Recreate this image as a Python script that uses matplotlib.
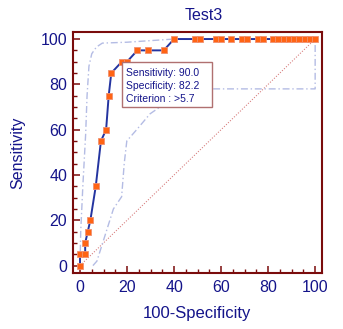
import matplotlib
matplotlib.use("Agg")
import matplotlib.pyplot as plt
from matplotlib.patches import Rectangle
from matplotlib.ticker import MultipleLocator

plt.rcParams['font.family'] = ['Liberation Sans', 'DejaVu Sans']

# ROC curve points: 100-Specificity (x) and Sensitivity (y)
fpr = [0, 0, 2.2, 2.2, 3.3, 4.4, 6.7, 8.9, 11.1, 12.2, 13.3, 17.8, 20.0, 24.4,
       28.9, 35.6, 40.0, 48.9, 51.1, 57.8, 60.0, 64.4, 68.9, 71.1, 75.6, 77.8,
       82.2, 84.4, 86.7, 88.9, 91.1, 93.3, 95.6, 97.8, 100.0]
sens = [0, 5, 5, 10, 15, 20, 35, 55, 60, 75, 85, 90, 90, 95,
        95, 95, 100, 100, 100, 100, 100, 100, 100, 100, 100, 100,
        100, 100, 100, 100, 100, 100, 100, 100, 100]

# 95% confidence bounds
upper_x = [0, 0.3, 1.2, 2.4, 3.0, 3.8, 5.0, 7.0, 9.5, 20.0, 40.0, 100.0]
upper_y = [0, 15, 35, 58, 75, 88, 93.5, 96.5, 98.2, 98.6, 100, 100]
lower_x = [5.5, 7.2, 14.2, 17.7, 18.8, 19.9, 24.1, 29.8, 34.0, 45.0, 52.0, 100.0, 100.0]
lower_y = [0, 2, 25, 30.4, 45, 55, 60, 67, 70, 75, 78, 78, 100]

# Optimal criterion
crit_sens = 90.0
crit_spec = 82.2
crit_label = ">5.7"

title = "Test3"
xlabel = "100-Specificity"
ylabel = "Sensitivity"
ticks = [0, 20, 40, 60, 80, 100]

navy = '#14148a'
maroon = '#7a0c0c'

fig = plt.figure(figsize=(3.43, 3.29), dpi=100)
ax = fig.add_axes([0.212, 0.170, 0.726, 0.732])

ax.plot([0, 100], [0, 100], linestyle=(0, (1, 1.5)), color='#d88080', lw=0.8, zorder=1)
ax.plot(upper_x, upper_y, linestyle=(0, (5, 2, 1, 2)), color='#b4bce4', lw=1.0, zorder=1)
ax.plot(lower_x, lower_y, linestyle=(0, (5, 2, 1, 2)), color='#b4bce4', lw=1.0, zorder=1)

ax.plot(fpr, sens, color='#2434a0', lw=1.4, zorder=3)
ax.plot(fpr, sens, linestyle='none', marker='s', ms=4.6, mfc='#ff6414',
        mec='#f09070', mew=0.6, zorder=4)

# Criterion box anchored at the optimal point
cx, cy = 100 - crit_spec, crit_sens
box_w, box_h = 38.3, 20.0
ax.add_patch(Rectangle((cx, cy - box_h), box_w, box_h, facecolor='white',
                       edgecolor='#b07070', lw=1.0, zorder=5))
lines = [f"Sensitivity: {crit_sens:.1f}",
         f"Specificity: {crit_spec:.1f}",
         f"Criterion : {crit_label}"]
for i, t in enumerate(lines):
    ax.annotate(t, xy=(cx, cy), xytext=(3.2, -10.4 - 9.2 * i),
                textcoords='offset points', ha='left', va='baseline',
                fontsize=7.5, color=navy, zorder=6)

ax.set_xlim(-3.1, 102.8)
ax.set_ylim(-3.3, 103.0)
ax.set_xticks(ticks)
ax.set_yticks(ticks)
ax.xaxis.set_minor_locator(MultipleLocator(5))
ax.yaxis.set_minor_locator(MultipleLocator(5))
ax.tick_params(which='major', direction='in', length=5, width=1.1, color=maroon,
               labelcolor=navy, labelsize=11.5)
ax.tick_params(which='minor', direction='in', length=3, width=1.0, color=maroon)
ax.tick_params(axis='x', which='major', pad=5)
ax.tick_params(axis='y', which='major', pad=4)
for s in ax.spines.values():
    s.set_color(maroon)
    s.set_linewidth(1.5)

ax.set_xlabel(xlabel, fontsize=12, color=navy, labelpad=8)
ax.set_ylabel(ylabel, fontsize=11.5, color=navy, labelpad=11)
ax.set_title(title, fontsize=11.5, color=navy, pad=9, x=0.525)

fig.savefig('out.png', dpi=100)
